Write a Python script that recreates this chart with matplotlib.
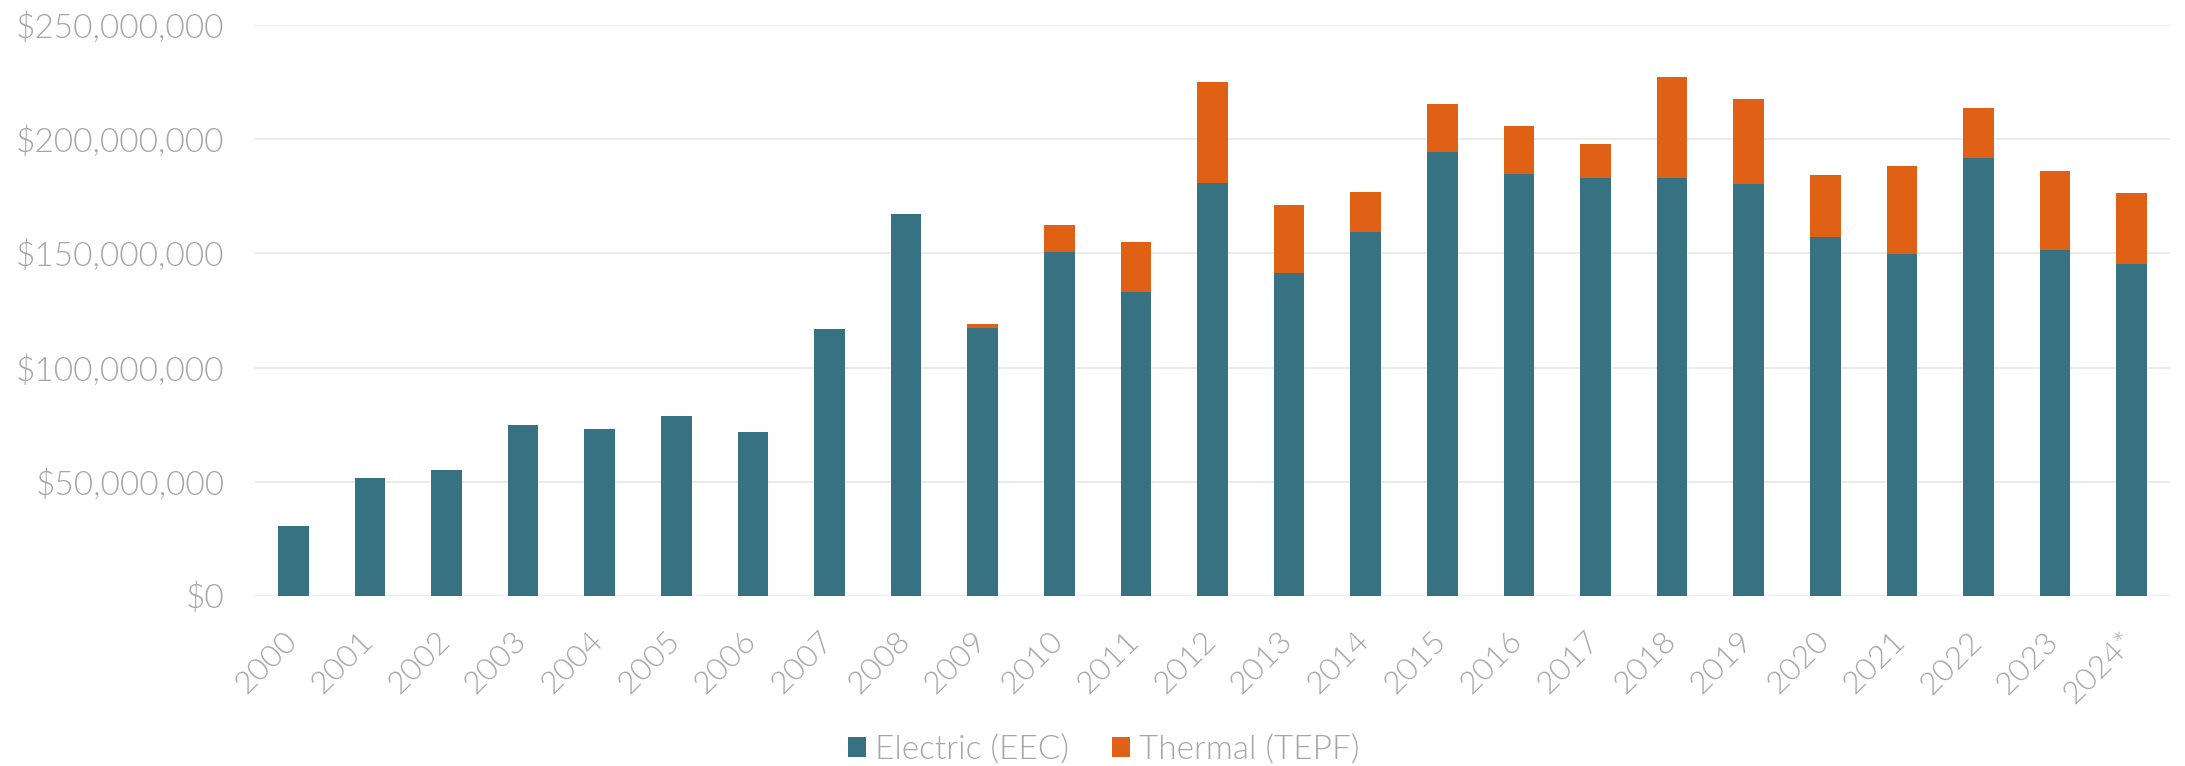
import matplotlib
matplotlib.use("Agg")
import matplotlib.pyplot as plt
import matplotlib.transforms as mtransforms
from matplotlib.patches import Patch
from matplotlib.ticker import FuncFormatter, MultipleLocator
import numpy as np

years = ['2000', '2001', '2002', '2003', '2004', '2005', '2006', '2007', '2008',
         '2009', '2010', '2011', '2012', '2013', '2014', '2015', '2016', '2017',
         '2018', '2019', '2020', '2021', '2022', '2023', '2024*']

# values in millions of dollars
electric_m = [30.6, 51.8, 55.3, 74.7, 73.1, 78.8, 71.9, 117.0, 167.4,
              117.3, 150.6, 133.3, 181.0, 141.5, 159.2, 194.3, 184.9, 183.0,
              182.9, 180.4, 157.2, 149.9, 191.8, 151.5, 145.3]
thermal_m = [0, 0, 0, 0, 0, 0, 0, 0, 0,
             1.6, 12.0, 21.8, 44.1, 29.7, 17.6, 21.1, 21.1, 14.9,
             44.4, 37.3, 27.3, 38.6, 21.8, 34.8, 31.2]

series_labels = ['Electric (EEC)', 'Thermal (TEPF)']
colors = ['#367282', '#e06016']

electric = np.array(electric_m) * 1e6
thermal = np.array(thermal_m) * 1e6

plt.rcParams['font.family'] = ['Lato', 'DejaVu Sans']
text_color = '#a6a6a6'
fw = 300

fig = plt.figure(figsize=(21.85, 7.66), dpi=100)
ax = fig.add_axes([255 / 2185, 1 - 595.7 / 766, (2170 - 255) / 2185, (595.7 - 25.3) / 766])

x = np.arange(len(years))
w = 0.40
ax.bar(x, electric, width=w, color=colors[0], linewidth=0, zorder=3)
mask = thermal > 0
ax.bar(x[mask], thermal[mask], width=w, bottom=electric[mask], color=colors[1],
       linewidth=0, zorder=3)

ax.set_xlim(-0.5, len(years) - 0.5)
ax.set_ylim(0, 250e6)
ax.yaxis.set_major_locator(MultipleLocator(50e6))
ax.yaxis.set_major_formatter(FuncFormatter(lambda v, p: '${:,.0f}'.format(v)))
ax.grid(axis='y', color='#ebebeb', linewidth=1.4, zorder=0)
ax.set_axisbelow(True)
for s in ['top', 'right', 'left', 'bottom']:
    ax.spines[s].set_visible(False)
ax.tick_params(axis='both', length=0, colors=text_color)
ax.tick_params(axis='y', pad=22, labelsize=24)
ax.tick_params(axis='x', pad=34, labelsize=23)
ax.set_xticks(x)
ax.set_xticklabels(years, rotation=45, ha='right', va='baseline', rotation_mode='anchor')
offset = mtransforms.ScaledTranslation(5 / 100, 0, fig.dpi_scale_trans)
for lab in ax.get_xticklabels():
    lab.set_transform(lab.get_transform() + offset)
for lab in ax.get_xticklabels() + ax.get_yticklabels():
    lab.set_color(text_color)
    lab.set_fontweight(fw)

handles = [Patch(facecolor=colors[0], label=series_labels[0]),
           Patch(facecolor=colors[1], label=series_labels[1])]
leg = fig.legend(handles=handles, loc='center', bbox_to_anchor=(0.505, 1 - 750 / 766),
                 ncol=2, frameon=False, fontsize=24, handlelength=0.54, handleheight=0.54,
                 handletextpad=0.27, columnspacing=1.3)
for t in leg.get_texts():
    t.set_color(text_color)
    t.set_fontweight(fw)

fig.savefig('out.png', dpi=100, facecolor='white')
